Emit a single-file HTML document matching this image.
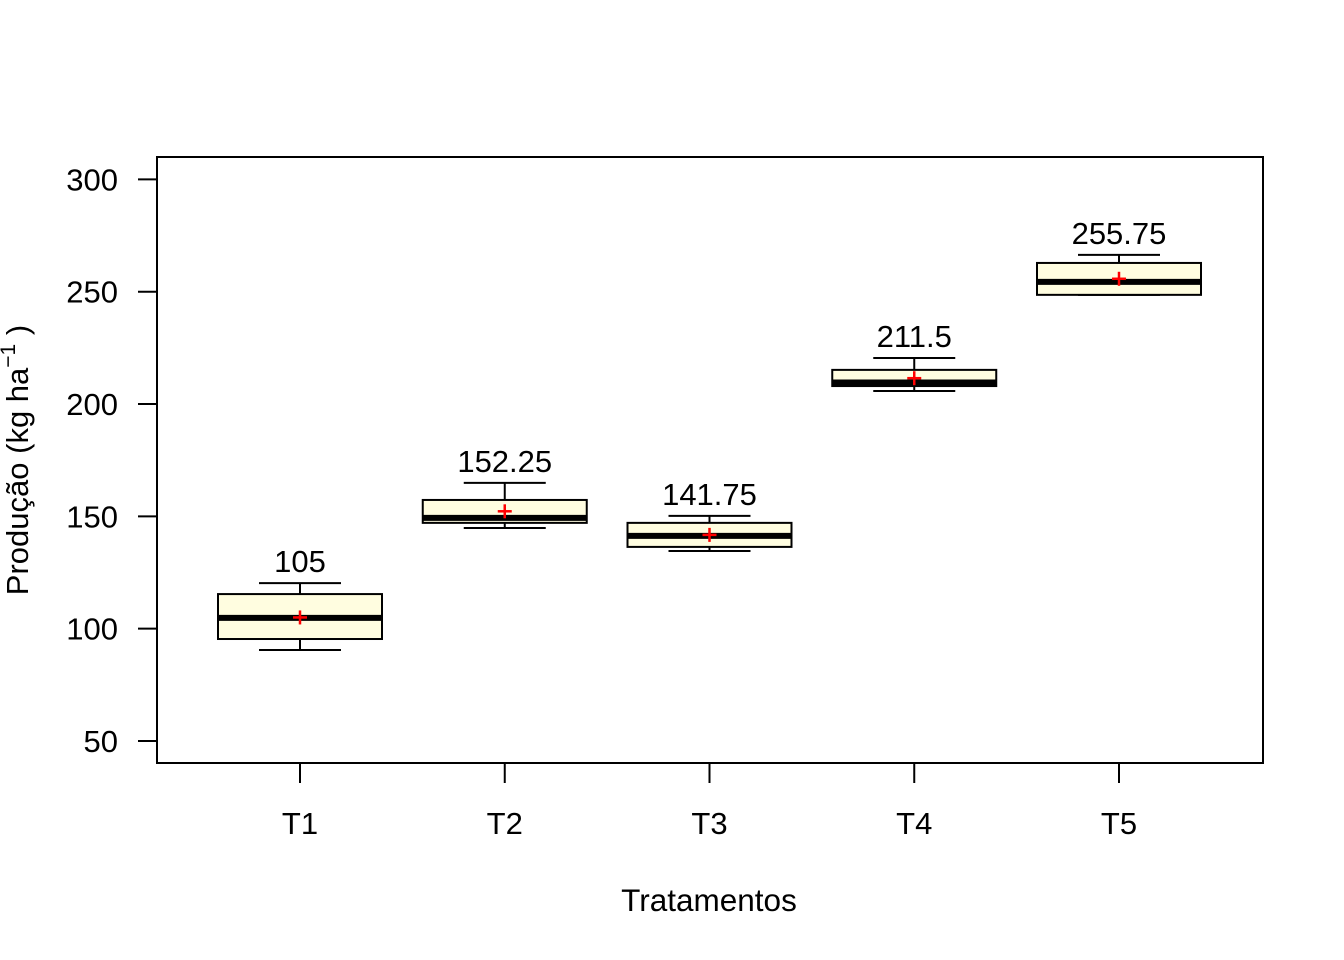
<!DOCTYPE html>
<html><head><meta charset="utf-8"><style>
html,body{margin:0;padding:0;background:#fff;}
svg{display:block;font-family:"Liberation Sans",Arial,sans-serif;}
</style></head><body>
<svg id="chart" width="1344" height="960" viewBox="0 0 1344 960">
<rect x="157" y="157" width="1106" height="606" fill="none" stroke="#000" stroke-width="2"/>
<g id="yaxis"></g>
<g id="xaxis"></g>
<g id="boxes"></g>
<text x="709" y="911" font-size="31.5" text-anchor="middle">Tratamentos</text>
<text transform="translate(28,460) rotate(-90)" font-size="31" text-anchor="middle">Produção (kg ha<tspan font-size="21" dy="-13">−1</tspan><tspan dy="13"> )</tspan></text>
</svg>
<script>
const categories = ["T1","T2","T3","T4","T5"];
const whiskerHigh = [120.3,164.9,150.2,220.5,266.4];
const q3 = [115.4,157.3,147.1,215.2,262.8];
const medians = [104.8,149.3,141.3,209.6,254.4];
const q1 = [95.4,147.1,136.4,208,248.6];
const whiskerLow = [90.5,144.8,134.6,205.8,248.6];
const means = [105,152.25,141.75,211.5,255.75];
const meanLabels = ["105","152.25","141.75","211.5","255.75"];
const yTicks = [50,100,150,200,250,300];

const NS="http://www.w3.org/2000/svg";
function y(v){return 741-(v-50)*2.2465;}
function x(i){return 300+i*204.75;}
function mk(tag,attrs,parent){const e=document.createElementNS(NS,tag);for(const k in attrs)e.setAttribute(k,attrs[k]);parent.appendChild(e);return e;}
const ya=document.getElementById('yaxis'),xa=document.getElementById('xaxis'),bx=document.getElementById('boxes');
yTicks.forEach(t=>{
  const l=mk('line',{x1:138,x2:157,y1:y(t),y2:y(t),stroke:'#000','stroke-width':2},ya);
  
  
  const tx=mk('text',{x:118,y:y(t)+11,'font-size':31,'text-anchor':'end'},ya);
  tx.textContent=t;
  
  
});
categories.forEach((c,i)=>{
  const cx=x(i);
  const l=mk('line',{x1:cx,x2:cx,y1:763,y2:783,stroke:'#000','stroke-width':2},xa);
  
  
  const tx=mk('text',{x:cx,y:834,'font-size':31,'text-anchor':'middle'},xa);
  tx.textContent=c;
  
  
  const g=mk('g',{},bx);
  
  
  mk('line',{x1:cx,x2:cx,y1:y(whiskerHigh[i]),y2:y(q3[i]),stroke:'#000','stroke-width':2},g);
  mk('line',{x1:cx,x2:cx,y1:y(q1[i]),y2:y(whiskerLow[i]),stroke:'#000','stroke-width':2},g);
  mk('line',{x1:cx-41,x2:cx+41,y1:y(whiskerHigh[i]),y2:y(whiskerHigh[i]),stroke:'#000','stroke-width':2},g);
  mk('line',{x1:cx-41,x2:cx+41,y1:y(whiskerLow[i]),y2:y(whiskerLow[i]),stroke:'#000','stroke-width':2},g);
  mk('rect',{x:cx-82,y:y(q3[i]),width:164,height:y(q1[i])-y(q3[i]),fill:'#fffde0',stroke:'#000','stroke-width':2},g);
  mk('line',{x1:cx-82,x2:cx+82,y1:y(medians[i]),y2:y(medians[i]),stroke:'#000','stroke-width':6},g);
  const my=y(means[i]);
  mk('line',{x1:cx-7,x2:cx+7,y1:my,y2:my,stroke:'#f00','stroke-width':2.5},g);
  mk('line',{x1:cx,x2:cx,y1:my-7,y2:my+7,stroke:'#f00','stroke-width':2.5},g);
  const lb=mk('text',{x:cx,y:y(whiskerHigh[i])-11,'font-size':31,'text-anchor':'middle'},g);
  lb.textContent=meanLabels[i];
  
  
});
</script>
</body></html>
